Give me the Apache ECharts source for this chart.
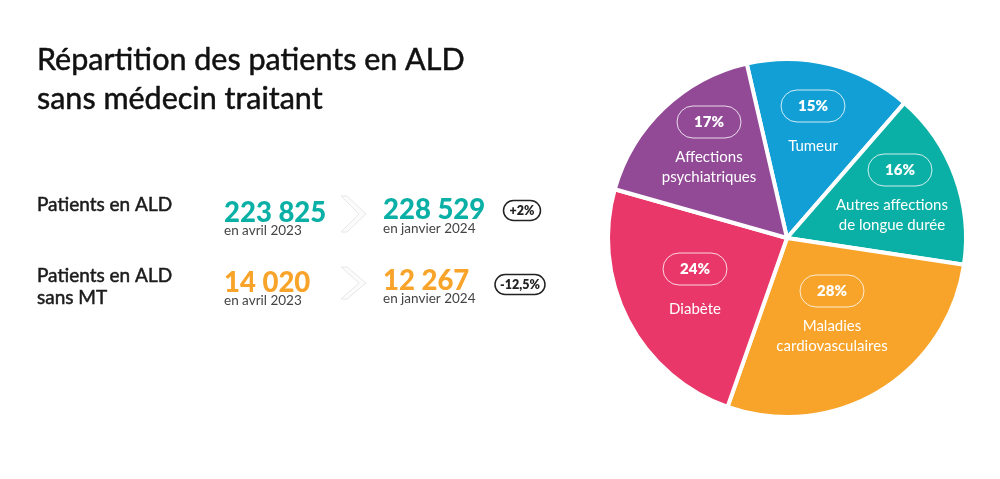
<!DOCTYPE html>
<html lang="fr">
<head>
<meta charset="utf-8">
<title>Répartition des patients en ALD sans médecin traitant</title>
<style>
  html, body { margin: 0; padding: 0; background: #fff; }
  #chart { width: 1000px; height: 479px; }
</style>
<script src="https://cdn.jsdelivr.net/npm/echarts@6/dist/echarts.min.js"></script>
</head>
<body>
<div id="chart"></div>
<script>
var titleLines = ['Répartition des patients en ALD', 'sans médecin traitant'];

// Pie, clockwise from the top.
var categories = ['Tumeur', 'Autres affections\nde longue durée', 'Maladies\ncardiovasculaires', 'Diabète', 'Affections\npsychiatriques'];
var shares = [15, 16, 28, 24, 17];

// Figures on the left.
var rowLabels = ['Patients en ALD', 'Patients en ALD\nsans MT'];
var april2023 = ['223 825', '14 020'];
var january2024 = ['228 529', '12 267'];
var changes = ['+2%', '-12,5%'];
var periodLabels = ['en avril 2023', 'en janvier 2024'];

var sliceColors = ['#119FD6', '#0AB0A5', '#F8A42A', '#E83768', '#924A97'];
var rowColors = ['#0AB0A5', '#F8A42A'];
// top centre of each slice label
var labelAnchors = [[813, 90], [892, 154], [832, 275], [695, 253], [709, 106]];

var textFont = 'Lato, "Noto Sans", sans-serif';
var rowLayout = [
  { labelY: 205, fromY: 213, fromSubY: 231, toY: 210, toSubY: 229, chevronY: 214, chevronH: 18, pillX: 522, pillW: 37, pillY: 211 },
  { labelY: 287, fromY: 283, fromSubY: 301, toY: 281, toSubY: 299, chevronY: 283, chevronH: 16, pillX: 520, pillW: 50, pillY: 285 }
];

function text(x, y, str, size, weight, color, align, stroke) {
  return {
    type: 'text',
    x: x,
    y: y,
    style: {
      text: str,
      fontFamily: textFont,
      fontSize: size,
      fontWeight: weight,
      fill: color,
      stroke: stroke ? color : null,
      lineWidth: stroke || 0,
      align: align || 'left',
      verticalAlign: 'middle',
      lineHeight: 22
    }
  };
}

var elements = [];
titleLines.forEach(function (line, i) {
  elements.push(text(37, 60 + i * 39, line, 30.5, 400, '#111', 'left', 0.5));
});
rowLayout.forEach(function (row, i) {
  var color = rowColors[i];
  var h = row.chevronH;
  elements.push(text(37, row.labelY, rowLabels[i], 19, 400, '#1b1b1b', 'left', 0.5));
  elements.push(text(224, row.fromY, april2023[i], 27.5, 900, color));
  elements.push(text(224, row.fromSubY, periodLabels[0], 13.5, 400, '#444'));
  elements.push(text(383, row.toY, january2024[i], 27.5, 900, color));
  elements.push(text(383, row.toSubY, periodLabels[1], 13.5, 400, '#444'));
  elements.push({
    type: 'polygon',
    shape: {
      points: [
        [341, row.chevronY - h], [347, row.chevronY - h], [366, row.chevronY],
        [347, row.chevronY + h], [341, row.chevronY + h], [359, row.chevronY]
      ]
    },
    style: { fill: '#fbfbfb', stroke: '#e8e8e8', lineWidth: 1 }
  });
  elements.push({
    type: 'rect',
    shape: { x: row.pillX - row.pillW / 2, y: row.pillY - 10.5, width: row.pillW, height: 20, r: 10 },
    style: { fill: '#fff', stroke: '#222', lineWidth: 1.5 }
  });
  elements.push(text(row.pillX, row.pillY, changes[i], 12.5, 800, '#222', 'center'));
});

var chart = echarts.init(document.getElementById('chart'));

chart.setOption({
  animation: false,
  backgroundColor: '#fff',
  graphic: { elements: elements },
  series: [{
    type: 'pie',
    center: [787, 238],
    radius: [0, 179],
    startAngle: 103,
    clockwise: true,
    silent: true,
    data: categories.map(function (name, i) {
      return { name: name, value: shares[i], itemStyle: { color: sliceColors[i] } };
    }),
    itemStyle: { borderColor: '#fff', borderWidth: 4 },
    labelLine: { show: false },
    label: {
      show: true,
      position: 'inside',
      color: '#fff',
      fontFamily: textFont,
      formatter: function (p) {
        var names = p.name.split('\n');
        var pill = '{pill|' + p.value + '%}';
        // the long label sits a little left of its pill
        if (p.dataIndex === 1) {
          pill = '{shift|}' + pill;
        }
        var gap = names.length === 1 ? '{gapWide| }' : '{gap| }';
        return [pill, gap].concat(names.map(function (n) { return '{name|' + n + '}'; })).join('\n');
      },
      rich: {
        pill: {
          width: 64, height: 32, align: 'center', color: '#fff',
          fontFamily: textFont, fontSize: 15, fontWeight: 800,
          borderColor: 'rgba(255,255,255,0.8)', borderWidth: 1, borderRadius: 16
        },
        shift: { width: 16, height: 32 },
        gap: { fontSize: 4, lineHeight: 9 },
        gapWide: { fontSize: 4, lineHeight: 14 },
        name: { color: '#fff', fontFamily: textFont, fontSize: 15, lineHeight: 20, align: 'center' }
      }
    },
    labelLayout: function (params) {
      var anchor = labelAnchors[params.dataIndex];
      return { x: anchor[0], y: anchor[1], align: 'center', verticalAlign: 'top' };
    }
  }]
});
</script>
</body>
</html>
